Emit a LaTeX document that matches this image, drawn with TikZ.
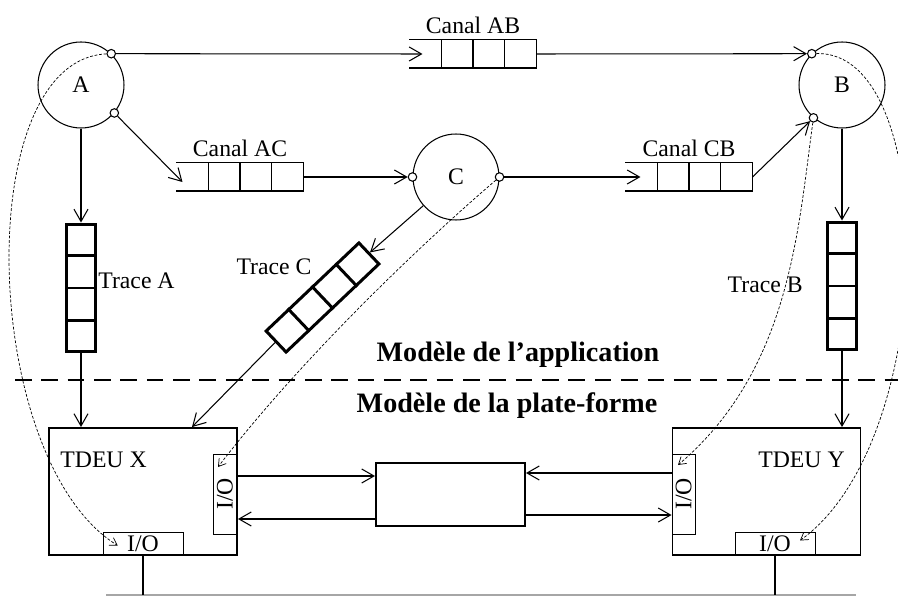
\documentclass[tikz,border=0pt]{standalone}
\usepackage{fontspec}
\setmainfont{Liberation Serif}
\usetikzlibrary{arrows.meta,positioning,calc}

\tikzset{
	proc/.style={circle,draw,minimum size=1.72cm,inner sep=0pt},
	port/.style={circle,draw,fill=white,minimum size=0.17cm,inner sep=0pt},
	canal/.style={minimum width=2.52cm,minimum height=0.54cm,inner sep=0pt},
	trace/.style={draw,line width=1.7pt,minimum width=0.58cm,minimum height=2.56cm,inner sep=0pt},
	tdeu/.style={draw,line width=1.1pt,minimum width=3.76cm,minimum height=2.54cm,inner sep=0pt},
	io/.style={draw,line width=0.4pt,minimum width=1.6cm,minimum height=0.46cm,inner sep=0pt},
	arr/.style={-{Straight Barb[length=7pt,width=8pt]}},
	darr/.style={line width=0.4pt,dash pattern=on 1.6pt off 1pt,-{Straight Barb[length=4pt,width=5pt]}},
	titre/.style={font=\fontsize{16}{19}\selectfont\bfseries,anchor=base}
}

\newcommand{\canalcells}[1]{%
	\draw (#1.north west) -- (#1.north east) -- (#1.south east) -- (#1.south west);
	\foreach \k in {1,2,3}
		\draw ($(#1.north west)!\k/4!(#1.north east)$) -- ($(#1.south west)!\k/4!(#1.south east)$);
}
\newcommand{\tracecells}[1]{%
	\foreach \k in {1,2,3}
		\draw[line width=1.7pt] ($(#1.north west)!\k/4!(#1.south west)$) -- ($(#1.north east)!\k/4!(#1.south east)$);
}

\begin{document}
\begin{tikzpicture}[x=0.02cm,y=-0.02cm,line width=0.6pt,font=\fontsize{13.5}{16}\selectfont]
	\useasboundingbox (0,0) rectangle (898,597);

	% processus
	\node[proc] (A) at (81,85) {A};
	\node[proc] (B) at (842,85) {B};
	\node[proc] (C) at (456,177) {C};
	\node[port] (A1) at (A.46) {};
	\node[port] (A2) at (A.-40) {};
	\node[port] (B1) at (B.134) {};
	\node[port] (B2) at (B.229) {};
	\node[port] (C1) at (C.west) {};
	\node[port] (C2) at (C.east) {};

	% canaux
	\node[canal] (AB) at (473,54) {};
	\node[canal] (AC) at (240,177) {};
	\node[canal] (CB) at (689,177) {};
	\canalcells{AB}
	\canalcells{AC}
	\canalcells{CB}
	\node[above=0pt of AB] (lAB) {Canal AB};
	\node[above=0pt of AC] (lAC) {Canal AC};
	\node[above=0pt of CB] (lCB) {Canal CB};

	% traces
	\node[trace] (TA) at (81,288) {};
	\node[trace] (TB) at (842,286) {};
	\node[trace,rotate=-46.5] (TC) at (322.5,297.5) {};
	\tracecells{TA}
	\tracecells{TB}
	\tracecells{TC}
	\node[anchor=west] (lTA) at (92,281) {Trace A};
	\node[anchor=east] (lTB) at (809,285) {Trace B};
	\node (lTC) at (274,267) {Trace C};

	% plate-forme
	\node[tdeu] (X) at (143,491.5) {};
	\node[tdeu] (Y) at (766.5,491.5) {};
	\node[draw,line width=1.1pt,minimum width=2.98cm,minimum height=1.26cm] (M) at (450.5,494.5) {};
	\node[io,rotate=90] (XR) at (225,494) {I/O};
	\node[io] (XB) at (143,543.5) {I/O};
	\node[io,rotate=90] (YL) at (683.5,494) {I/O};
	\node[io] (YB) at (775,543.5) {I/O};
	\node[anchor=west] (lX) at (54,460) {TDEU X};
	\node[anchor=east] (lY) at (851,460) {TDEU Y};

	\coordinate (busL) at (106,595);
	\coordinate (busR) at (856,595);
	\draw[gray!70] (busL) -- (busR);
	\draw[line width=0.9pt] (XB.south) -- (XB.south |- busL);
	\draw[line width=0.9pt] (YB.south) -- (YB.south |- busL);

	% separation
	\coordinate (sepL) at (15,380);
	\coordinate (sepR) at (898,380);
	\draw[line width=1.2pt,dash pattern=on 9.5pt off 5.5pt] (sepL) -- (sepR);
	\node[titre] (app) at (518,361) {Modèle de l’application};
	\node[titre] (plf) at (507,412) {Modèle de la plate-forme};

	% fleches
	\draw[arr] (A1) -- ($(AB.west)+(13,0)$);
	\draw[arr] (AB.east) -- (B1);
	\draw[arr] (A2) -- ($(AC.south west)+(6,-9)$);
	\draw[arr] (AC.east) -- (C1);
	\draw[arr] (C2) -- ($(CB.west)+(15,0)$);
	\draw[arr] (CB.east) -- (B2);
	\draw[arr] (A) -- (TA);
	\draw[arr] (B) -- (TB);
	\draw[arr] (C) -- (TC.north);
	\draw[arr] (TA) -- (TA |- X.north);
	\draw[arr] (TB) -- (TB |- Y.north);
	\draw[arr] (TC.south) -- ($(X.north)+(49,0)$);

	\draw[arr] (X.east |- 0,476) -- (M.west |- 0,476);
	\draw[arr] (M.west |- 0,519) -- (X.east |- 0,519);
	\draw[arr] (Y.west |- 0,473) -- (M.east |- 0,473);
	\draw[arr] (M.east |- 0,515) -- (Y.west |- 0,515);

	% liens en pointilles
	\draw[darr] (A1) .. controls (-30,60) and (-20,460) .. ($(XB.west)+(15,2)$);
	\draw[darr] (C2) .. controls (420,245) and (300,360) .. ($(XR.center)+(-7,-27)$);
	\draw[darr] (B2) .. controls (798,230) and (790,370) .. ($(YL.center)+(-5.5,-29)$);
	\draw[darr] (B1) .. controls (940,50) and (940,440) .. ($(YB.center)+(25,-3)$);
\end{tikzpicture}
\end{document}
